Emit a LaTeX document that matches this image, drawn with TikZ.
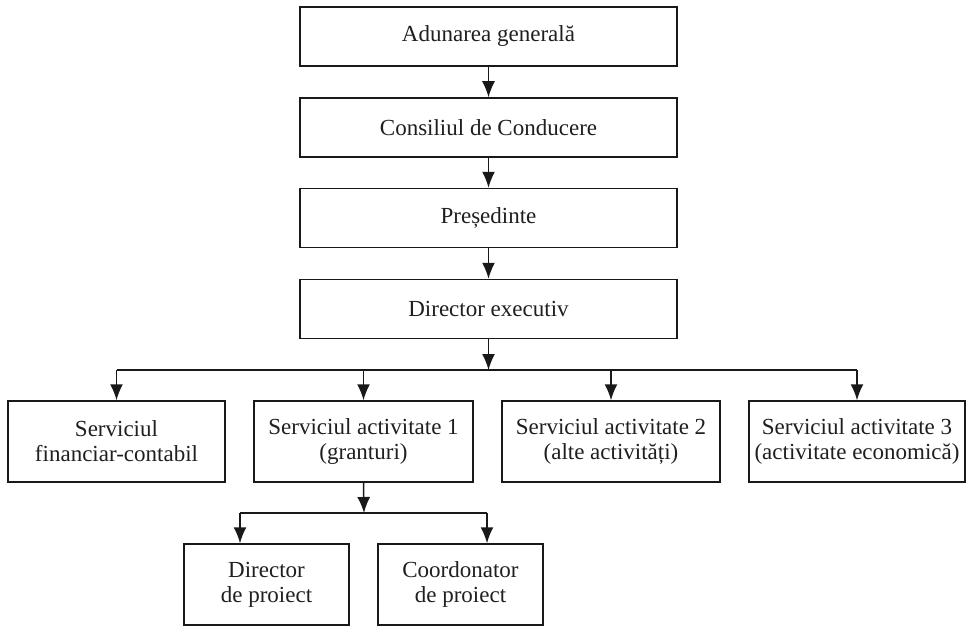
\documentclass[tikz,border=0pt]{standalone}
\usepackage{fontspec}
\setmainfont{Liberation Serif}
\usetikzlibrary{arrows.meta}
\begin{document}
\begin{tikzpicture}[x=1pt,y=-1pt,
  box/.style={draw=black!90, line width=1.5pt, fill=white, inner sep=0pt, align=center,
    font=\fontsize{23}{25}\selectfont, text=black!88},
  topbox/.style={box, minimum width=377pt, minimum height=59pt},
  rowbox/.style={box, minimum height=81pt},
  subbox/.style={box, minimum width=165pt, minimum height=81pt},
  link/.style={draw=black!90, line width=1.5pt},
  arr/.style={link, -{Latex[length=16pt,width=13pt]}}]
\useasboundingbox (0,0) rectangle (967,626);
\node[topbox] (b1) at (488.5,36.5) {Adunarea generală};
\node[topbox] (b2) at (488.5,127.5) {Consiliul de Conducere};
\node[topbox] (b3) at (488.5,218) {Președinte};
\node[topbox] (b4) at (488.5,309) {Director executiv};
\node[rowbox, minimum width=217pt] (sA) at (116.5,441.5) {Serviciul\\financiar-contabil};
\node[rowbox, minimum width=219pt] (sB) at (363.5,441.5) {Serviciul activitate 1\\(granturi)};
\node[rowbox, minimum width=218pt] (sC) at (611,441.5) {Serviciul activitate 2\\(alte activități)};
\node[rowbox, minimum width=216pt] (sD) at (857,441.5) {Serviciul activitate 3\\(activitate economică)};
\node[subbox] (p1) at (266.5,584.5) {Director\\de proiect};
\node[subbox] (p2) at (460.5,584.5) {Coordonator\\de proiect};
\coordinate (j1) at (488.5,370);
\coordinate (j2) at (364,513);
\coordinate (d1) at (240,513);
\coordinate (d2) at (487,513);
\draw[arr] (b1) -- (b2);
\draw[arr] (b2) -- (b3);
\draw[arr] (b3) -- (b4);
\draw[arr] (b4.south) -- (j1);
\draw[link] (sA.north |- j1) -- (sD.north |- j1);
\draw[arr] (sA.north |- j1) -- (sA.north);
\draw[arr] (sB.north |- j1) -- (sB.north);
\draw[arr] (sC.north |- j1) -- (sC.north);
\draw[arr] (sD.north |- j1) -- (sD.north);
\draw[arr] (sB.south) -- (j2);
\draw[link] (d1) -- (d2);
\draw[arr] (d1) -- (d1 |- p1.north);
\draw[arr] (d2) -- (d2 |- p2.north);
\end{tikzpicture}
\end{document}
